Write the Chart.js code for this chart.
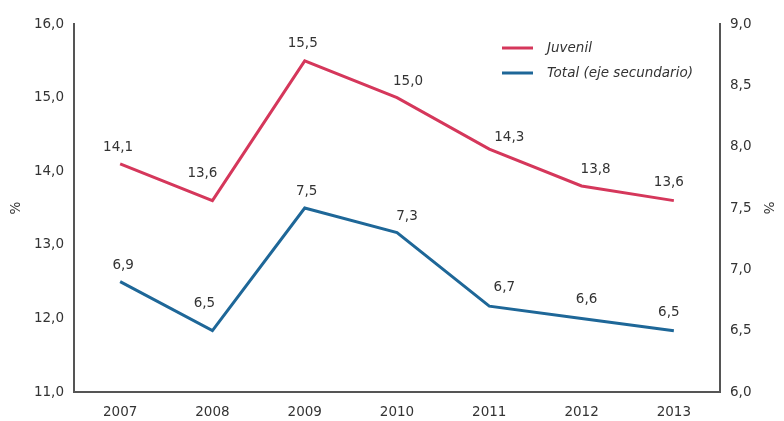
<!DOCTYPE html>
<html>
<head>
<meta charset="utf-8">
<script src="https://cdn.jsdelivr.net/npm/chart.js@4/dist/chart.umd.min.js"></script>
<style>
  html, body { margin: 0; padding: 0; background: #fff; }
  #wrap { width: 784px; height: 421px; }
</style>
</head>
<body>
<div id="wrap"><canvas id="chart"></canvas></div>
<script>
// años y series
const years = ['2007', '2008', '2009', '2010', '2011', '2012', '2013'];
const juvenil = [14.1, 13.6, 15.5, 15.0, 14.3, 13.8, 13.6];
const total = [6.9, 6.5, 7.5, 7.3, 6.7, 6.6, 6.5];

const RED = '#d5375b';
const BLUE = '#1e6798';
const INK = '#333';
const FONT = 'DejaVu Sans, Verdana, sans-serif';

const fmt = v => v.toFixed(1).replace('.', ',');

// etiquetas de valor junto a cada punto (desplazamiento [dx, dy] por punto)
const valueLabels = {
    id: 'valueLabels',
    afterDatasetsDraw(chart) {
        const ctx = chart.ctx;
        ctx.save();
        ctx.font = '13.5px ' + FONT;
        ctx.fillStyle = INK;
        ctx.textAlign = 'center';
        ctx.textBaseline = 'middle';
        chart.data.datasets.forEach((ds, i) => {
            const shift = ds.labelShift || [];
            chart.getDatasetMeta(i).data.forEach((pt, j) => {
                const [dx, dy] = shift[j] || [0, -17];
                ctx.fillText(fmt(ds.data[j]), pt.x + dx, pt.y + dy);
            });
        });
        ctx.restore();
    }
};

// leyenda dentro del área del gráfico
const innerLegend = {
    id: 'innerLegend',
    afterDraw(chart) {
        const ctx = chart.ctx;
        ctx.save();
        ctx.font = 'italic 13.5px ' + FONT;
        ctx.fillStyle = INK;
        ctx.textBaseline = 'middle';
        chart.data.datasets.forEach((ds, i) => {
            const y = 48 + i * 25;
            ctx.strokeStyle = ds.borderColor;
            ctx.lineWidth = 3;
            ctx.beginPath();
            ctx.moveTo(502, y);
            ctx.lineTo(533, y);
            ctx.stroke();
            ctx.fillText(ds.label, 547, y);
        });
        ctx.restore();
    }
};

const tickFont = { family: FONT, size: 13.5 };

new Chart(document.getElementById('chart'), {
    type: 'line',
    data: {
        labels: years,
        datasets: [{
            label: 'Juvenil',
            data: juvenil,
            borderColor: RED,
            borderWidth: 3,
            pointRadius: 0,
            yAxisID: 'y',
            labelShift: [[-2, -16], [-10, -27], [-2, -17], [11, -16], [20, -12], [14, -16], [-5, -18]]
        }, {
            label: 'Total (eje secundario)',
            data: total,
            borderColor: BLUE,
            borderWidth: 3,
            pointRadius: 0,
            yAxisID: 'y2',
            labelShift: [[3, -16], [-8, -27], [2, -17], [10, -16], [15, -19], [5, -19], [-5, -18]]
        }]
    },
    options: {
        responsive: true,
        maintainAspectRatio: false,
        animation: false,
        layout: { padding: { top: 24, left: 0, right: 0, bottom: 0 } },
        plugins: { legend: { display: false }, tooltip: { enabled: false } },
        scales: {
            x: {
                offset: true,
                grid: { color: 'transparent', drawTicks: false },
                border: { color: '#555', width: 2 },
                ticks: { color: INK, font: tickFont, padding: 12 },
                afterFit: s => { s.height = 29; }
            },
            y: {
                position: 'left',
                min: 11, max: 16,
                grid: { color: 'transparent', drawTicks: false },
                border: { color: '#555', width: 2 },
                ticks: { stepSize: 1, color: INK, font: tickFont, padding: 10, callback: v => fmt(v) },
                title: { display: true, text: '%', color: INK, font: tickFont, padding: { top: 8, bottom: 0 } },
                afterFit: s => { s.width = 74; }
            },
            y2: {
                position: 'right',
                min: 6, max: 9,
                grid: { color: 'transparent', drawTicks: false },
                border: { color: '#555', width: 2 },
                ticks: { stepSize: 0.5, color: INK, font: tickFont, padding: 10, callback: v => fmt(v) },
                title: { display: true, text: '%', color: INK, font: tickFont, padding: { top: 8, bottom: 0 } },
                afterFit: s => { s.width = 64; }
            }
        }
    },
    plugins: [valueLabels, innerLegend]
});
</script>
</body>
</html>
